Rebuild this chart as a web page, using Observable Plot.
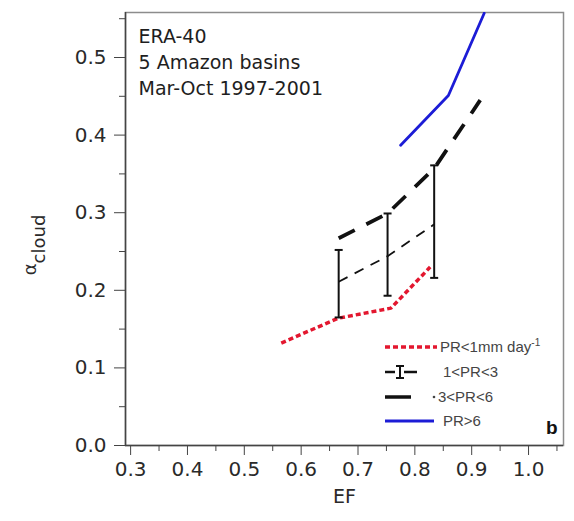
<!DOCTYPE html>
<html><head><meta charset="utf-8">
<script src="https://cdn.jsdelivr.net/npm/d3@7"></script>
<script src="https://cdn.jsdelivr.net/npm/@observablehq/plot@0.6"></script>
<style>body{margin:0;background:#fff;}#chart{width:574px;height:521px;}</style>
</head><body><div id="chart"></div>
<script>
// ---- data ----
const efPR1 = [0.565, 0.665, 0.758, 0.827];
const acPR1 = [0.132, 0.164, 0.177, 0.230];
const efPR13 = [0.666, 0.752, 0.834];
const acPR13 = [0.211, 0.244, 0.285];
const acPR13Lo = [0.165, 0.193, 0.216];
const acPR13Hi = [0.252, 0.299, 0.361];
const efPR36 = [0.666, 0.752, 0.834, 0.915];
const acPR36 = [0.267, 0.299, 0.357, 0.445];
const efPR6 = [0.775, 0.859, 0.922];
const acPR6 = [0.387, 0.451, 0.557];
const xTicks = [0.3, 0.4, 0.5, 0.6, 0.7, 0.8, 0.9, 1.0];
const xMinorTicks = [0.35, 0.45, 0.55, 0.65, 0.75, 0.85, 0.95, 1.05];
const yTicks = [0.0, 0.1, 0.2, 0.3, 0.4, 0.5];
const yMinorTicks = [0.05, 0.15, 0.25, 0.35, 0.45, 0.55];
const annotationLines = ["ERA-40", "5 Amazon basins", "Mar-Oct 1997-2001"];
const legendLabels = ["PR<1mm day", "1<PR<3", "3<PR<6", "PR>6"];
const panelLabel = "b";
const xLabel = "EF";

// ---- build ----
const xDomain = [0.291, 1.0615];
const yDomain = [0, 0.558];
const rows = (xs, ys) => xs.map((x, i) => ({x, y: ys[i]}));
const rows13 = efPR13.map((x, i) => ({x, y: acPR13[i], lo: acPR13Lo[i], hi: acPR13Hi[i]}));
const cap = {draw(ctx, size) { const w = Math.sqrt(size / Math.PI); ctx.moveTo(-w, 0); ctx.lineTo(w, 0); }};
const red = "#e3172f", blue = "#1c1cd6", ink = "#111";

const plot = Plot.plot({
  width: 574, height: 521,
  marginLeft: 125, marginRight: 11, marginTop: 12, marginBottom: 76,
  style: {fontFamily: "'DejaVu Sans', sans-serif", fontSize: "20px", color: "#2a2a2a", background: "#fff"},
  x: {domain: xDomain}, y: {domain: yDomain},
  marks: [
    Plot.frame({stroke: "#8c8c8c", strokeWidth: 1.5}),
    Plot.ruleY([yDomain[0]], {stroke: "#444", strokeWidth: 1.5}),
    Plot.ruleX([xDomain[0]], {stroke: "#444", strokeWidth: 1.5}),
    Plot.axisX(xMinorTicks, {tickSize: 6, tickFormat: () => "", label: null, stroke: "#444"}),
    Plot.axisX(xTicks, {tickSize: 10, tickPadding: 6, tickFormat: d3.format(".1f"), label: null, stroke: "#444"}),
    Plot.axisY(yMinorTicks, {tickSize: 6, tickFormat: () => "", label: null, stroke: "#444"}),
    Plot.axisY(yTicks, {tickSize: 11, tickPadding: 8, tickFormat: d3.format(".1f"), label: null, stroke: "#444"}),
    Plot.line(rows(efPR1, acPR1), {x: "x", y: "y", stroke: red, strokeWidth: 3.5, strokeDasharray: "5,3", strokeLinecap: "butt"}),
    Plot.line(rows13, {x: "x", y: "y", stroke: ink, strokeWidth: 1.8, strokeDasharray: "10,8", strokeLinecap: "butt"}),
    Plot.ruleX(rows13, {x: "x", y1: "lo", y2: "hi", stroke: ink, strokeWidth: 2}),
    Plot.dot(rows13, {x: "x", y: "lo", symbol: cap, r: 4, stroke: ink, strokeWidth: 2, fill: "none"}),
    Plot.dot(rows13, {x: "x", y: "hi", symbol: cap, r: 4, stroke: ink, strokeWidth: 2, fill: "none"}),
    Plot.line(rows(efPR36, acPR36), {x: "x", y: "y", stroke: ink, strokeWidth: 3.8, strokeDasharray: "18,13", strokeLinecap: "butt"}),
    Plot.line(rows(efPR6, acPR6), {x: "x", y: "y", stroke: blue, strokeWidth: 2.8, clip: true}),
    Plot.text([annotationLines.join("\n")], {text: d => d, frameAnchor: "top-left", textAnchor: "start", lineAnchor: "top",
      dx: 13, dy: 12, lineHeight: 1.37, fontSize: 19, fill: "#1e1e1e"}),
    Plot.text([xLabel], {text: d => d, frameAnchor: "bottom", dy: 57, fontSize: 19, fill: "#2a2a2a"}),
    Plot.text([panelLabel], {text: d => d, frameAnchor: "bottom-right", textAnchor: "end", lineAnchor: "bottom",
      dx: -6, dy: -12, fontSize: 19, fontWeight: "bold", fontFamily: "'Liberation Sans', sans-serif", fill: "#111"})
  ]
});
document.getElementById("chart").appendChild(plot);

// ---- y label (alpha with subscript) ----
const svg = d3.select(plot);
const yl = svg.append("text").attr("transform", "translate(36,245) rotate(-90)")
  .attr("text-anchor", "middle").attr("fill", "#2a2a2a").style("font-family", "'DejaVu Sans', sans-serif");
yl.append("tspan").text("α").style("font-size", "18px");
yl.append("tspan").text("cloud").attr("dy", 9).style("font-size", "18px");

// ---- legend ----
const lg = svg.append("g").attr("text-anchor", "start")
  .style("font-family", "'Liberation Sans', sans-serif").style("font-size", "15px");
const rowY = [347, 372, 397, 421];
// row 0: red dotted
lg.append("line").attr("x1", 385).attr("x2", 437).attr("y1", rowY[0]).attr("y2", rowY[0])
  .attr("stroke", red).attr("stroke-width", 3.5).attr("stroke-dasharray", "5,3");
// row 1: thin dashed with error bar
lg.append("line").attr("x1", 385).attr("x2", 395).attr("y1", rowY[1]).attr("y2", rowY[1]).attr("stroke", ink).attr("stroke-width", 2.5);
lg.append("line").attr("x1", 404).attr("x2", 417).attr("y1", rowY[1]).attr("y2", rowY[1]).attr("stroke", ink).attr("stroke-width", 2.5);
lg.append("line").attr("x1", 400).attr("x2", 400).attr("y1", rowY[1] - 6).attr("y2", rowY[1] + 6).attr("stroke", ink).attr("stroke-width", 2);
lg.append("line").attr("x1", 396).attr("x2", 404).attr("y1", rowY[1] - 6).attr("y2", rowY[1] - 6).attr("stroke", ink).attr("stroke-width", 2);
lg.append("line").attr("x1", 396).attr("x2", 404).attr("y1", rowY[1] + 6).attr("y2", rowY[1] + 6).attr("stroke", ink).attr("stroke-width", 2);
// row 2: thick dash
lg.append("line").attr("x1", 385).attr("x2", 411).attr("y1", rowY[2]).attr("y2", rowY[2]).attr("stroke", ink).attr("stroke-width", 3.5);
lg.append("circle").attr("cx", 434).attr("cy", rowY[2]).attr("r", 1.3).attr("fill", "#444");
// row 3: blue
lg.append("line").attr("x1", 385).attr("x2", 434).attr("y1", rowY[3]).attr("y2", rowY[3]).attr("stroke", blue).attr("stroke-width", 2.8);
const textX = [440, 443, 438, 443];
legendLabels.forEach((lab, i) => {
  const t = lg.append("text").attr("x", textX[i]).attr("y", rowY[i] + 5).attr("fill", "#444").text(lab);
  if (i === 0) t.append("tspan").text("-1").attr("dy", -6).style("font-size", "10px");
});
</script>
</body></html>
